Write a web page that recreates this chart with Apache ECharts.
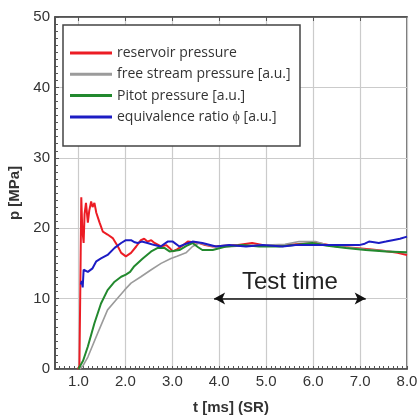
<!DOCTYPE html>
<html>
<head>
<meta charset="utf-8">
<script src="https://cdn.jsdelivr.net/npm/echarts@6/dist/echarts.min.js"></script>
<style>
html,body{margin:0;padding:0;background:#fff;}
#c{width:418px;height:417px;}
</style>
</head>
<body>
<div id="c"></div>
<script>
// ---- data ----
const seriesNames = ['reservoir pressure', 'free stream pressure [a.u.]', 'Pitot pressure [a.u.]', 'equivalence ratio \u03d5 [a.u.]'];

const redT = [0.98, 1.02, 1.04, 1.06, 1.08, 1.11, 1.13, 1.16, 1.2, 1.23, 1.27, 1.3, 1.34, 1.38, 1.45, 1.52, 1.62, 1.73, 1.84, 1.91, 2.01, 2.12, 2.23, 2.33, 2.4, 2.47, 2.55, 2.62, 2.76, 2.87, 2.94, 3.01, 3.1, 3.19, 3.33, 3.45, 3.57, 3.7, 3.86, 4.1, 4.4, 4.7, 5.0, 5.4, 5.8, 6.1, 6.5, 6.9, 7.2, 7.5, 7.8, 8.0];
const redP = [0, 0.3, 12, 24.4, 20, 17.9, 22, 23.6, 20.8, 22.5, 23.8, 23, 23.6, 22.2, 20.8, 19.5, 19.1, 18.6, 17.4, 16.5, 16.0, 16.5, 17.4, 18.3, 18.5, 18.1, 18.3, 17.9, 17.4, 17.6, 17.2, 16.7, 17.0, 17.4, 18.1, 18.0, 17.9, 17.6, 17.4, 17.5, 17.6, 17.9, 17.5, 17.6, 17.8, 17.9, 17.4, 17.2, 17.0, 16.8, 16.5, 16.2];

const grayT = [1.03, 1.1, 1.2, 1.41, 1.62, 1.8, 1.98, 2.12, 2.33, 2.55, 2.76, 2.97, 3.1, 3.29, 3.43, 3.57, 3.8, 4.1, 4.5, 5.0, 5.4, 5.7, 6.05, 6.3, 6.7, 7.1, 7.5, 8.0];
const grayP = [0, 0.5, 1.7, 5.1, 8.4, 9.8, 11.2, 12.2, 13.1, 14.1, 15.0, 15.7, 16.0, 16.5, 17.4, 17.9, 17.5, 17.3, 17.5, 17.6, 17.7, 18.1, 18.1, 17.6, 17.3, 17.0, 16.8, 16.5];

const greenT = [1.0, 1.1, 1.2, 1.34, 1.48, 1.62, 1.77, 1.91, 2.01, 2.1, 2.19, 2.37, 2.55, 2.69, 2.83, 2.94, 3.05, 3.15, 3.3, 3.43, 3.55, 3.64, 3.86, 4.14, 4.5, 4.85, 5.28, 5.6, 5.98, 6.3, 6.7, 7.12, 7.55, 8.0];
const greenP = [0, 1.2, 3.2, 6.5, 9.3, 11.2, 12.4, 13.1, 13.4, 13.8, 14.6, 15.7, 16.7, 17.2, 17.2, 16.7, 16.8, 16.9, 17.5, 17.9, 17.3, 16.9, 16.9, 17.4, 17.6, 17.4, 17.4, 17.6, 17.9, 17.5, 17.2, 16.9, 16.7, 16.6];

const blueT = [1.05, 1.07, 1.09, 1.11, 1.15, 1.2, 1.3, 1.38, 1.48, 1.62, 1.77, 1.91, 2.01, 2.12, 2.2, 2.26, 2.35, 2.47, 2.62, 2.75, 2.9, 3.01, 3.15, 3.3, 3.43, 3.64, 3.93, 4.21, 4.57, 4.92, 5.35, 5.63, 5.98, 6.34, 6.7, 6.98, 7.1, 7.19, 7.3, 7.4, 7.55, 7.69, 7.85, 8.0];
const blueP = [12.0, 12.5, 11.6, 14.1, 13.9, 13.8, 14.3, 15.3, 15.7, 16.2, 17.2, 17.9, 18.3, 18.3, 18.0, 17.9, 18.1, 17.9, 17.6, 17.4, 18.1, 18.1, 17.4, 17.8, 18.1, 17.9, 17.4, 17.6, 17.4, 17.6, 17.4, 17.6, 17.6, 17.6, 17.6, 17.6, 17.8, 18.1, 18.0, 17.9, 18.1, 18.3, 18.5, 18.8];

const topTicks = [1, 2, 3, 4, 5, 6, 7];
const testTimeStart = 3.89, testTimeEnd = 7.12, testTimeLevel = 10;
const xMin = 0.5, xMax = 8.0, yMin = 0, yMax = 50;

const colors = ['#ec1c24', '#9b9b9b', '#22892e', '#1c1cc4'];
const widths = [2, 1.6, 2, 2];

function pairs(t, p) { return t.map((v, i) => [v, p[i]]); }

const chart = echarts.init(document.getElementById('c'), null, {renderer: 'canvas'});
const datasets = [pairs(redT, redP), pairs(grayT, grayP), pairs(greenT, greenP), pairs(blueT, blueP)];

const series = datasets.map((d, i) => ({
  name: seriesNames[i],
  type: 'line',
  data: d,
  showSymbol: false,
  symbol: 'none',
  lineStyle: {color: colors[i], width: widths[i]},
  itemStyle: {color: colors[i]},
  z: 2 + i
}));

series.push({
  name: 'testtime',
  type: 'line',
  data: [],
  symbol: 'none',
  markLine: {
    silent: true,
    symbol: ['arrow', 'arrow'],
    symbolSize: [9, 11],
    lineStyle: {color: '#111', width: 1.5, type: 'solid'},
    label: {
      show: true,
      position: 'middle',
      formatter: 'Test time',
      fontFamily: 'Liberation Sans',
      fontSize: 24,
      color: '#222',
      distance: 4
    },
    data: [[{coord: [testTimeStart, testTimeLevel]}, {coord: [testTimeEnd, testTimeLevel]}]]
  }
});

const axisFont = {fontFamily: 'Liberation Sans', fontSize: 15, color: '#333'};

chart.setOption({
  animation: false,
  backgroundColor: '#fff',
  grid: {left: 55, right: 11, top: 17, bottom: 48, show: true, borderColor: '#4a4a4a', borderWidth: 1.5, backgroundColor: 'transparent', containLabel: false, outerBoundsMode: 'none'},
  legend: {
    data: seriesNames,
    orient: 'vertical',
    left: 70,
    top: 45,
    padding: 0,
    itemWidth: 42,
    itemHeight: 3,
    itemGap: 5.3,
    icon: 'rect',
    textStyle: {fontFamily: 'Open Sans', fontSize: 14, color: '#333', lineHeight: 16},
    z: 20
  },
  graphic: [{
    type: 'rect',
    shape: {x: 63, y: 25, width: 237, height: 121},
    style: {fill: '#fff', stroke: '#444', lineWidth: 1.5},
    z: 10
  }],
  xAxis: [{
    type: 'value',
    min: xMin, max: xMax, interval: 0.5,
    name: 't [ms] (SR)',
    nameLocation: 'middle',
    nameGap: 31,
    nameTextStyle: {fontFamily: 'Liberation Sans', fontSize: 15, fontWeight: 'bold', color: '#333'},
    axisLine: {show: true, onZero: false, lineStyle: {color: '#4a4a4a', width: 1.5}},
    axisTick: {show: true, inside: true, length: 3, lineStyle: {color: '#555'}},
    minorTick: {show: true, splitNumber: 5, length: 3, lineStyle: {color: '#555'}},
    axisLabel: Object.assign({margin: 5, formatter: v => (Math.abs(v - Math.round(v)) < 1e-6 && v >= 1) ? v.toFixed(1) : ''}, axisFont),
    splitLine: {show: true, lineStyle: {color: ['rgba(0,0,0,0)', '#cbcbcb'], width: 1.2}}
  }, {
    type: 'value',
    position: 'top',
    min: xMin, max: xMax, interval: 0.5,
    axisLine: {show: true, onZero: false, lineStyle: {color: '#4a4a4a', width: 1.5}},
    axisTick: {show: true, inside: true, length: 4, customValues: topTicks, lineStyle: {color: '#555'}},
    axisLabel: {show: false},
    splitLine: {show: false}
  }],
  yAxis: {
    type: 'value',
    min: yMin, max: yMax, interval: 10,
    name: 'p [MPa]',
    nameLocation: 'middle',
    nameGap: 24,
    nameTextStyle: {fontFamily: 'Liberation Sans', fontSize: 15, fontWeight: 'bold', color: '#333'},
    axisLine: {show: true, onZero: false, lineStyle: {color: '#4a4a4a', width: 1.5}},
    axisTick: {show: true, inside: true, length: 4, lineStyle: {color: '#555'}},
    minorTick: {show: true, splitNumber: 10, length: 3, lineStyle: {color: '#555'}},
    axisLabel: Object.assign({margin: 5}, axisFont),
    splitLine: {show: true, lineStyle: {color: '#cbcbcb', width: 1.2}}
  },
  series: series
});
</script>
</body>
</html>
